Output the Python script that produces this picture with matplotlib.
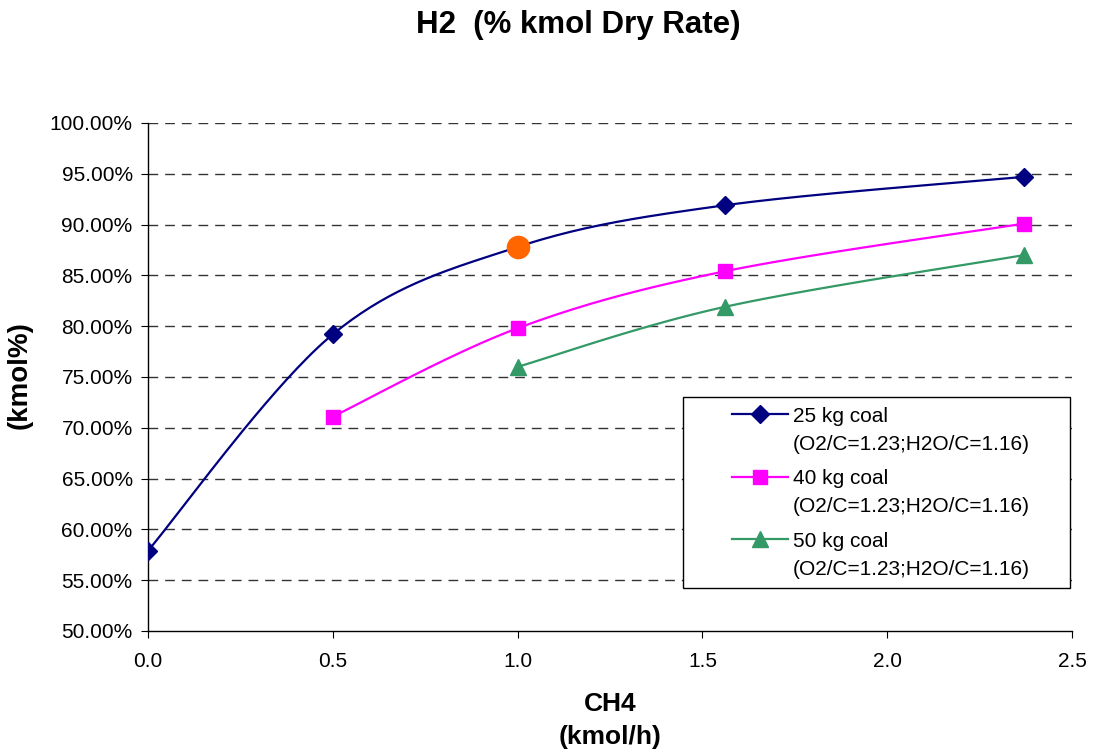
import numpy as np
import matplotlib.pyplot as plt
from matplotlib.ticker import PercentFormatter
from matplotlib.legend_handler import HandlerLine2D
from matplotlib.patches import Rectangle

plt.rcParams['font.family'] = ['Liberation Sans', 'DejaVu Sans']

# data
x25 = [0.0, 0.5, 1.0, 1.56, 2.37]
y25 = [0.579, 0.792, 0.878, 0.919, 0.947]
x40 = [0.5, 1.0, 1.56, 2.37]
y40 = [0.711, 0.798, 0.854, 0.901]
x50 = [1.0, 1.56, 2.37]
y50 = [0.760, 0.819, 0.870]
hl_x = [1.0]
hl_y = [0.878]
labels = ["25 kg coal\n(O2/C=1.23;H2O/C=1.16)",
          "40 kg coal\n(O2/C=1.23;H2O/C=1.16)",
          "50 kg coal\n(O2/C=1.23;H2O/C=1.16)"]


def smooth(xs, ys, n=40, xr=2.5, yr=0.5):
    # Excel-style bezier smoothing (catmull-rom control points)
    p = np.column_stack([np.array(xs) / xr, np.array(ys) / yr])
    if len(p) < 3:
        return xs, ys
    out = [p[0]]
    for i in range(len(p) - 1):
        p0 = p[i - 1] if i > 0 else p[i]
        p1, p2 = p[i], p[i + 1]
        p3 = p[i + 2] if i + 2 < len(p) else p[i + 1]
        c1 = p1 + (p2 - p0) / 6
        c2 = p2 - (p3 - p1) / 6
        t = np.linspace(0, 1, n)[1:, None]
        seg = ((1 - t) ** 3) * p1 + 3 * ((1 - t) ** 2) * t * c1 + 3 * (1 - t) * t ** 2 * c2 + t ** 3 * p2
        out.extend(seg)
    out = np.array(out)
    return out[:, 0] * xr, out[:, 1] * yr


class FirstLineHandler(HandlerLine2D):
    # put the legend sample next to the first line of a two-line label
    def __init__(self, dy=0.0, **kw):
        super().__init__(**kw)
        self.dy = dy

    def create_artists(self, legend, orig_handle, xdescent, ydescent, width, height, fontsize, trans):
        arts = super().create_artists(legend, orig_handle, xdescent, ydescent, width, height, fontsize, trans)
        for a in arts:
            a.set_ydata(np.asarray(a.get_ydata(), float) + self.dy * fontsize)
        return arts


fig = plt.figure(figsize=(11.01, 7.55), dpi=100)
ax = fig.add_axes([148 / 1101, 1 - 631 / 755, 924 / 1101, 508 / 755])

series = [(x25, y25, '#000080', 'D', 9),
          (x40, y40, '#FF00FF', 's', 10),
          (x50, y50, '#339966', '^', 11)]
handles = []
for (xs, ys, c, m, ms), lab in zip(series, labels):
    sx, sy = smooth(xs, ys)
    ax.plot(sx, sy, color=c, lw=1.6, zorder=3)
    ax.plot(xs, ys, ls='none', marker=m, ms=ms, color=c, zorder=4)
    h, = ax.plot([], [], color=c, lw=1.6, marker=m, ms=ms, label=lab)
    handles.append(h)

ax.plot(hl_x, hl_y, ls='none', marker='o', ms=16, color='#FF6600', zorder=5)

ax.set_xlim(0, 2.5)
ax.set_ylim(0.5, 1.0)
ax.set_xticks(np.arange(0, 2.51, 0.5))
ax.set_xticklabels([f"{v:.1f}" for v in np.arange(0, 2.51, 0.5)])
ax.set_yticks(np.arange(0.5, 1.001, 0.05))
ax.yaxis.set_major_formatter(PercentFormatter(1.0, decimals=2))
ax.tick_params(labelsize=15, direction='out', length=5, color='black')
ax.tick_params(axis='x', pad=10)
ax.tick_params(axis='y', pad=6)

for v in np.arange(0.55, 1.001, 0.05):
    ax.axhline(v, color='#333333', lw=1, dashes=(7, 5), zorder=1)

for s in ['top', 'right']:
    ax.spines[s].set_visible(False)
for s in ['left', 'bottom']:
    ax.spines[s].set_color('black')
    ax.spines[s].set_linewidth(1)

hmap = {h: FirstLineHandler(dy=0.78) for h in handles}
leg = ax.legend(handles=handles, handler_map=hmap, loc='lower right',
                bbox_to_anchor=((1034 - 148) / 924, (631 - 583) / 508),
                fontsize=15, frameon=False, borderaxespad=0,
                handlelength=2.65, labelspacing=0.75, borderpad=0.2, handletextpad=0.25)
for t in leg.get_texts():
    t.set_linespacing(1.6)
leg.set_zorder(7)

# legend frame: wider side margins than matplotlib's symmetric borderpad
fig.canvas.draw()
bb = leg.get_window_extent()
fw, fh = fig.bbox.width, fig.bbox.height
frame = Rectangle(((bb.x0 - 45) / fw, (bb.y0 - 5) / fh), (bb.width + 81) / fw, (bb.height + 10) / fh,
                  transform=fig.transFigure, facecolor='white', edgecolor='black', lw=1,
                  zorder=6, clip_on=False)
ax.add_artist(frame)

fig.text(578 / 1101, 1 - 25 / 755, "H2  (% kmol Dry Rate)", ha='center', va='center',
         fontsize=22.5, fontweight='bold')
fig.text(610 / 1101, 1 - 704 / 755, "CH4", ha='center', va='center',
         fontsize=19, fontweight='bold')
fig.text(610 / 1101, 1 - 737 / 755, "(kmol/h)", ha='center', va='center',
         fontsize=19, fontweight='bold')
fig.text(20 / 1101, 1 - 375 / 755, "(kmol%)", ha='center', va='center',
         fontsize=20, fontweight='bold', rotation=90)

fig.savefig("out.png", dpi=100)
